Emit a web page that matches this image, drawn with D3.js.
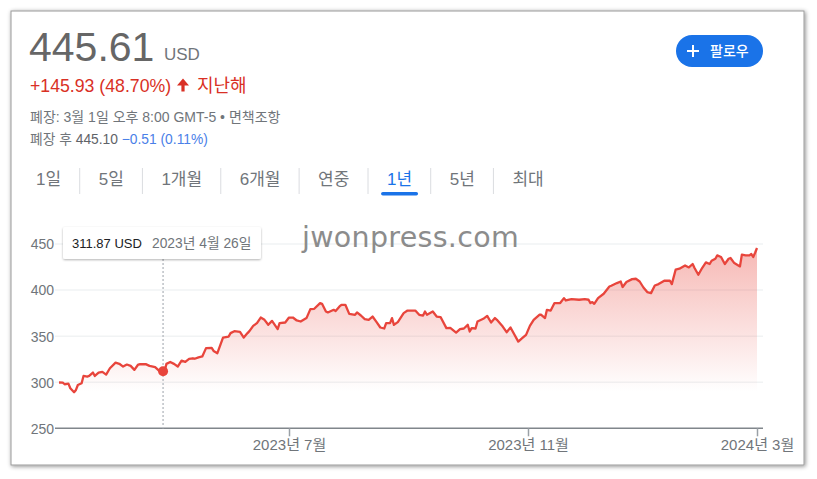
<!DOCTYPE html>
<html><head><meta charset="utf-8">
<script src="https://cdn.jsdelivr.net/npm/d3@7"></script>
<style>
html,body{margin:0;padding:0;background:#fff;}
svg{display:block;font-family:Arial,"Liberation Sans","Noto Sans CJK KR",sans-serif;}
</style></head>
<body><svg id="chart" width="817" height="479"></svg>
<script>
// ---------- data ----------
const startDay = "2023-03-01";
const days = [0,2,3,5,6,8,9,10,12,13,15,16,18,19,21,23,25,27,30,32,34,36,38,40,42,43,46,48,51,53,56,57,59,61,63,65,67,69,71,72,74,76,78,81,82,84,87,90,91,93,96,98,100,101,103,105,107,109,111,113,116,117,120,122,124,126,128,131,133,135,138,139,141,142,145,146,148,149,151,153,156,157,159,161,163,165,167,169,171,172,174,175,176,178,181,183,187,189,191,192,193,196,198,200,203,205,208,210,212,214,215,216,218,219,222,224,226,228,229,232,234,236,240,242,244,246,248,251,252,254,255,257,259,262,264,265,268,272,275,277,278,279,280,282,285,288,289,292,294,295,297,300,302,304,306,308,310,312,314,317,320,321,323,325,328,330,332,333,335,337,339,341,342,344,345,347,349,351,352,354,357,358,360,362,363,364,365,366];
const prices = [299.68,299.6,297.8,298.5,293.5,289.1,291.6,297,298.9,306.8,306.1,306.8,310.5,306.8,310.4,311.2,308.3,315.2,321.3,320,317,319.2,317.7,313.4,319.2,319.5,319.6,317.7,316.3,312.6,311.87,319.9,322,319.9,317,323.5,322,325.3,326,325.5,327,328,337,337.3,334,331.5,348.5,349.6,353.3,355.4,354.7,348.5,353.3,355.4,361.2,364.1,370.2,367.7,362.3,366.6,357.6,364.1,364.8,370.2,370.2,367,365.9,369.6,379.3,379.7,385.9,385.1,376.7,375.7,378.6,377.2,382.2,384,384,374.2,373.2,375.7,372.4,368.5,367.7,371.3,365.5,359.4,358.3,364.1,364.1,369.6,362.3,365.2,375,377.8,377.8,373.2,372.4,376.7,373.2,376.7,371.3,370.7,358.7,359,353.9,357.6,358.3,362.3,355,358.7,358.3,365.9,368.8,372,364.8,369.6,367.7,360.4,354.3,359.4,344.1,347.8,351.4,361.2,367.7,373.2,373.2,369.6,378.6,377.8,385.9,385.9,391.3,388.7,390.2,389.5,390.2,389.5,385.9,387,385.1,391.3,396,403.9,404.7,407.6,409.3,403.3,408.7,411.9,412.3,409.3,402.8,397.8,396.7,405,406.5,410.1,410.1,406.5,422.1,423.2,426.7,424.6,428.3,423.9,416.6,423.9,430,428.3,431.8,434,437.6,435.9,428.3,434,434.8,429.3,425.7,438.4,437.6,437.6,439.1,435.9,440.5,445.61];
const yTicks = [250,300,350,400,450];
const xTickDates = ["2023-07-01","2023-11-01","2024-03-01"];
const xTickLabels = ["2023년 7월","2023년 11월","2024년 3월"];
const tabs = ["1일","5일","1개월","6개월","연중","1년","5년","최대"];
const activeTab = "1년";
const hoverDate = "2023-04-26", hoverPrice = 311.87, hoverLabel = "2023년 4월 26일";
const price = "445.61", currency = "USD";
const change = "+145.93 (48.70%)", period = "지난해";
const closeInfo = "폐장: 3월 1일 오후 8:00 GMT-5 • 면책조항";
const afterLabel = "폐장 후 ", afterPrice = "445.10", afterChange = " −0.51 (0.11%)";
const followLabel = "팔로우";
const watermark = "jwonpress.com";

// ---------- drawing ----------
const parse = d3.timeParse("%Y-%m-%d");
const d0 = parse(startDay);
const data = days.map((d,i)=>({date:d3.timeDay.offset(d0,d), v:prices[i]}));
const svg = d3.select("#chart");
const defs = svg.append("defs");
const sh = defs.append("filter").attr("id","cardShadow").attr("x","-5%").attr("y","-5%").attr("width","110%").attr("height","110%");
sh.append("feDropShadow").attr("dx",1).attr("dy",1).attr("stdDeviation",2).attr("flood-color","#000").attr("flood-opacity",0.45);
const tsh = defs.append("filter").attr("id","tipShadow").attr("x","-10%").attr("y","-30%").attr("width","120%").attr("height","160%");
tsh.append("feDropShadow").attr("dx",0).attr("dy",1).attr("stdDeviation",1.2).attr("flood-color","#000").attr("flood-opacity",0.3);
const grad = defs.append("linearGradient").attr("id","areaGrad").attr("gradientUnits","userSpaceOnUse")
  .attr("x1",0).attr("x2",0).attr("y1",240).attr("y2",392);
grad.append("stop").attr("offset",0).attr("stop-color","#e8453c").attr("stop-opacity",0.4);
grad.append("stop").attr("offset",1).attr("stop-color","#e8453c").attr("stop-opacity",0);

// card
svg.append("rect").attr("x",11).attr("y",11).attr("width",793).attr("height",454)
  .attr("fill","#fff").attr("stroke","#9a9a9a").attr("stroke-width",1).attr("filter","url(#cardShadow)");

// header
const hdr = svg.append("g");
hdr.append("text").attr("x",29).attr("y",61).attr("font-size",41).attr("fill","#666").text(price);
hdr.append("text").attr("x",164).attr("y",60).attr("font-size",17).attr("fill","#70757a").text(currency);
hdr.append("text").attr("x",30).attr("y",92).attr("font-size",17.7).attr("fill","#d93025").text(change);
hdr.append("path").attr("d","M183 78.5L177 85.5H181.4V91.5H184.6V85.5H189Z").attr("fill","#d93025");
hdr.append("text").attr("x",197).attr("y",92).attr("font-size",18).attr("fill","#d93025").text(period);
hdr.append("text").attr("x",30).attr("y",122).attr("font-size",14).attr("fill","#70757a").text(closeInfo);
const t4 = hdr.append("text").attr("x",30).attr("y",144).attr("font-size",13.8);
t4.append("tspan").attr("fill","#70757a").text(afterLabel);
t4.append("tspan").attr("fill","#5f6368").text(afterPrice);
t4.append("tspan").attr("fill","#4a80e8").text(afterChange);

// follow button
const btn = svg.append("g");
btn.append("rect").attr("x",676).attr("y",35).attr("width",87).attr("height",32).attr("rx",16).attr("fill","#1a73e8");
btn.append("path").attr("d","M687 51h12M693 45v12").attr("stroke","#fff").attr("stroke-width",2);
btn.append("text").attr("x",710).attr("y",56).attr("font-size",14).attr("font-weight",500).attr("fill","#fff").text(followLabel);

// tabs
const tabG = svg.append("g");
let cx = 36;
tabs.forEach((t,i)=>{
  const el = tabG.append("text").attr("x",cx).attr("y",185).attr("font-size",17)
    .attr("fill", t===activeTab ? "#1a73e8" : "#70757a").text(t);
  const w = el.node().getComputedTextLength();
  if (t===activeTab){
    tabG.append("rect").attr("x",cx+w/2-18.5).attr("y",192).attr("width",37).attr("height",3.5).attr("rx",1.75).attr("fill","#1a73e8");
  }
  const sep = cx + w + 18.6;
  if (i < tabs.length-1){
    tabG.append("line").attr("x1",sep).attr("x2",sep).attr("y1",168).attr("y2",194).attr("stroke","#dadce0").attr("stroke-width",1);
  }
  cx = sep + 19;
});

// scales
const x = d3.scaleTime()
  .domain([d0, ...xTickDates.map(parse)])
  .range([59, 289, 528, 757]);
const y = d3.scaleLinear().domain([250,450]).range([428.3,244]);

// grid
const gridG = svg.append("g");
gridG.selectAll("line").data(yTicks.filter(t=>t>250)).join("line")
  .attr("x1",55).attr("x2",763).attr("y1",d=>y(d)).attr("y2",d=>y(d))
  .attr("stroke","#f1f3f4").attr("stroke-width",1.5);

// y axis labels
const yAxis = d3.axisLeft(y).tickValues(yTicks).tickSize(0).tickPadding(0);
const yg = svg.append("g").attr("transform","translate(54,0)").call(yAxis);
yg.select(".domain").remove();
yg.selectAll("text").attr("font-size",14).attr("fill","#70757a").attr("font-family","Arial,'Liberation Sans',sans-serif").attr("dy","0.35em");

// watermark
svg.append("text").attr("x",302).attr("y",247).attr("font-size",28.5)
  .attr("font-family","'DejaVu Sans',sans-serif").attr("fill","#8c8c8c").attr("letter-spacing",0.3).text(watermark);

// area + line
svg.append("path").datum(data)
  .attr("d", d3.area().x(d=>x(d.date)).y0(y(250)).y1(d=>y(d.v)))
  .attr("fill","url(#areaGrad)");

// x axis
const xAxis = d3.axisBottom(x).tickValues(xTickDates.map(parse)).tickSize(8)
  .tickFormat((d,i)=>xTickLabels[i]);
const xg = svg.append("g").attr("transform",`translate(0,${y(250)})`).call(xAxis);
xg.select(".domain").attr("d",`M55,0H763`).attr("stroke","#80868b").attr("stroke-width",1.5);
xg.selectAll(".tick line").attr("stroke","#9aa0a6").attr("stroke-width",1.5);
xg.selectAll(".tick text").attr("font-size",15).attr("fill","#70757a").attr("y",11).attr("dy","0.71em")
  .attr("font-family","Arial,'Liberation Sans','Noto Sans CJK KR',sans-serif");

svg.append("path").datum(data)
  .attr("d", d3.line().x(d=>x(d.date)).y(d=>y(d.v)))
  .attr("fill","none").attr("stroke","#e8453c").attr("stroke-width",2.3).attr("stroke-linejoin","round");

// hover marker
const hx = x(parse(hoverDate)) - 1.5, hy = y(hoverPrice);
svg.append("line").attr("x1",hx).attr("x2",hx).attr("y1",259).attr("y2",y(250))
  .attr("stroke","#bdc1c6").attr("stroke-width",1.5).attr("stroke-dasharray","2,2");
svg.append("circle").attr("cx",hx).attr("cy",hy).attr("r",5).attr("fill","#e8453c");

// tooltip
const tip = svg.append("g");
tip.append("rect").attr("x",63).attr("y",227).attr("width",198).attr("height",32).attr("rx",2)
  .attr("fill","#fff").attr("filter","url(#tipShadow)");
tip.append("text").attr("x",72).attr("y",248).attr("font-size",13).attr("fill","#202124").text(`${hoverPrice.toFixed(2)} ${currency}`);
tip.append("text").attr("x",152).attr("y",248).attr("font-size",13.8).attr("fill","#70757a").text(hoverLabel);
</script></body></html>
